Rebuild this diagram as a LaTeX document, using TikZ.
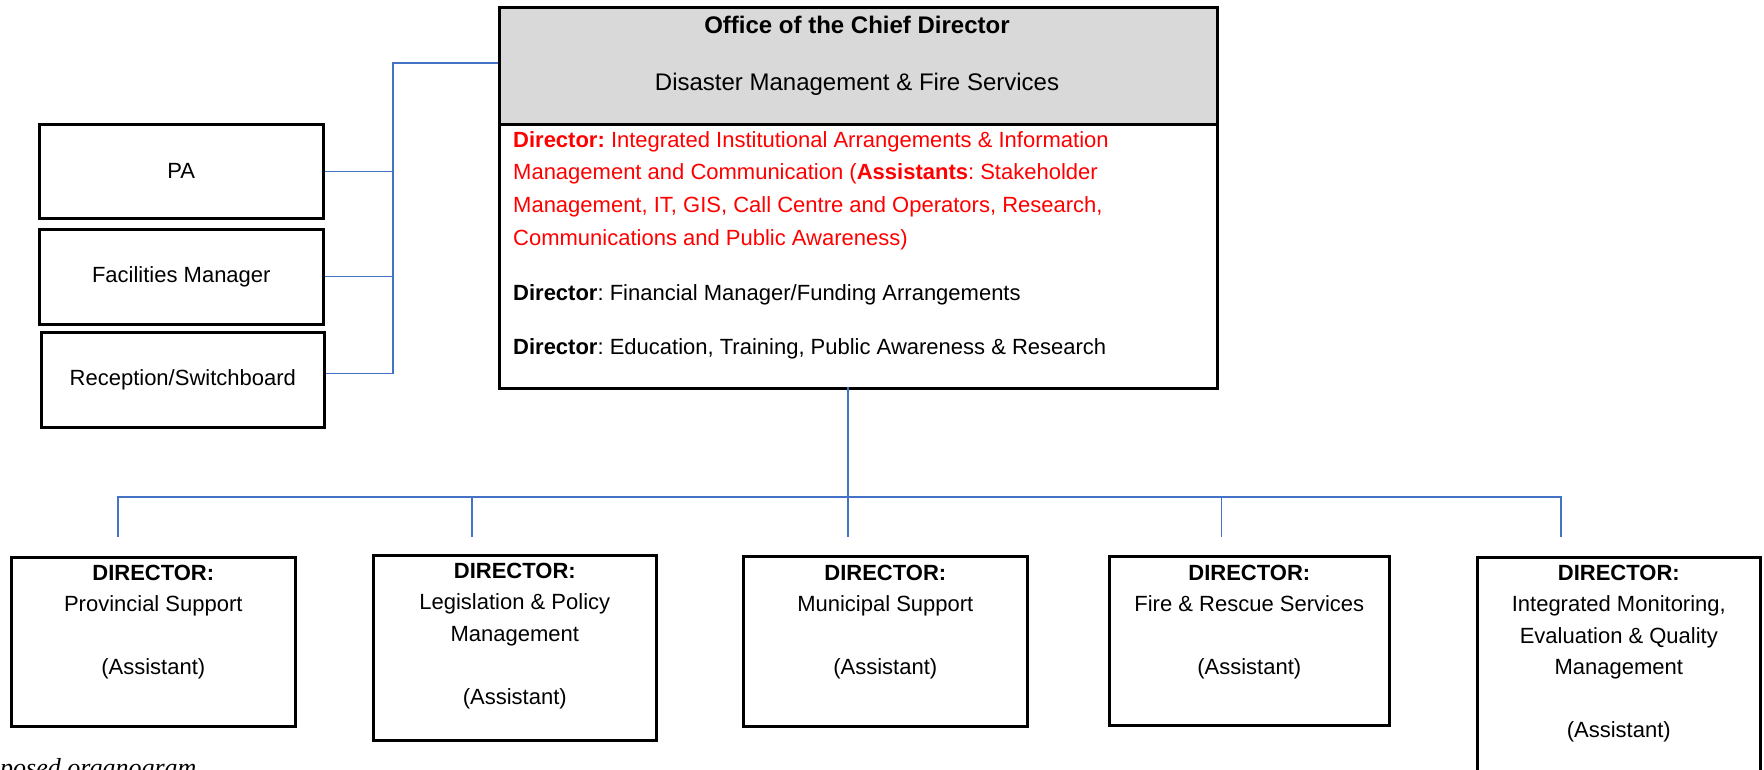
\documentclass[tikz,border=0pt]{standalone}
\usepackage{fontspec}
\setmainfont{Liberation Sans}
\newfontfamily\capfont{Liberation Serif}
\usetikzlibrary{calc}
\definecolor{linkblue}{HTML}{4472C4}
\definecolor{headgray}{HTML}{D9D9D9}
\definecolor{redtext}{HTML}{FF0000}
\frenchspacing
\newcommand{\btext}[2]{\parbox[t]{#1pt}{\centering\fontsize{22}{31.5}\selectfont #2}}
\begin{document}
\begin{tikzpicture}[x=1pt,y=-1pt,
  box/.style={draw=black, line width=2.6pt, rectangle, inner sep=0pt, anchor=north west},
  link/.style={draw=linkblue, line width=1.3pt},
  bodyfont/.style={font=\fontsize{22}{26}\selectfont},
  btxt/.style={anchor=base, inner sep=0pt}]
\useasboundingbox (0,0) rectangle (1764,769);
\clip (0,0) rectangle (1764,769);

% chief box
\node[box, fill=headgray, minimum width=718, minimum height=117] (chiefhead) at (498,6) {};
\node[box, minimum width=718, minimum height=264] (chiefbody) at (498,123) {};
\node[anchor=base, inner sep=0pt, font=\bfseries\fontsize{24}{28}\selectfont] (title) at (857,33) {Office of the Chief Director};
\node[anchor=base, inner sep=0pt, font=\fontsize{24}{28}\selectfont] (subtitle) at (857,90) {Disaster Management \& Fire Services};
\node[anchor=base west, inner sep=0pt, text=redtext] (red) at (513,147)
  {\parbox[t]{690pt}{\raggedright\fontsize{22}{32.7}\selectfont
   \textbf{Director:} Integrated Institutional Arrangements \& Information\\
   Management and Communication (\textbf{Assistants}: Stakeholder\\
   Management, IT, GIS, Call Centre and Operators, Research,\\
   Communications and Public Awareness)}};
\node[anchor=base west, inner sep=0pt, bodyfont] (fin) at (513,300) {\textbf{Director}: Financial Manager/Funding Arrangements};
\node[anchor=base west, inner sep=0pt, bodyfont] (edu) at (513,354) {\textbf{Director}: Education, Training, Public Awareness \& Research};

% left boxes
\node[box, minimum width=284, minimum height=94, bodyfont] (pa) at (38,123) {PA};
\node[box, minimum width=284, minimum height=95, bodyfont] (fac) at (38,228) {Facilities Manager};
\node[box, minimum width=283, minimum height=95, bodyfont] (rec) at (40,331) {Reception/Switchboard};

% bottom boxes
\node[box, minimum width=284, minimum height=169] (b1) at (10,556) {};
\node[box, minimum width=283, minimum height=185] (b2) at (372,554) {};
\node[box, minimum width=284, minimum height=170] (b3) at (742,555) {};
\node[box, minimum width=280, minimum height=169] (b4) at (1108,555) {};
\node[box, minimum width=283, minimum height=260] (b5) at (1476,556) {};

\node[btxt] (t1) at ($(b1.north)+(0,24)$) {\btext{270}{\textbf{DIRECTOR:}\\Provincial Support\\[31.5pt](Assistant)}};
\node[btxt] (t2) at ($(b2.north)+(0,24)$) {\btext{270}{\textbf{DIRECTOR:}\\Legislation \& Policy\\Management\\[31.5pt](Assistant)}};
\node[btxt] (t3) at ($(b3.north)+(0,25)$) {\btext{270}{\textbf{DIRECTOR:}\\Municipal Support\\[31.5pt](Assistant)}};
\node[btxt] (t4) at ($(b4.north)+(0,25)$) {\btext{270}{\textbf{DIRECTOR:}\\Fire \& Rescue Services\\[31.5pt](Assistant)}};
\node[btxt] (t5) at ($(b5.north)+(0,24)$) {\btext{270}{\textbf{DIRECTOR:}\\Integrated Monitoring,\\Evaluation \& Quality\\Management\\[31.5pt](Assistant)}};

% connectors
\coordinate (cdrop) at (848,387);
\coordinate (bus) at (848,497);
\coordinate (d1) at (118,537);
\coordinate (d2) at (472,537);
\coordinate (d3) at (848,537);
\coordinate (d4) at (1221.5,537);
\coordinate (d5) at (1561,537);
\draw[link] (cdrop) -- (bus);
\draw[link] (d1) -- (d1 |- bus) -- (d5 |- bus) -- (d5);
\draw[link] (d2 |- bus) -- (d2);
\draw[link] (d3 |- bus) -- (d3);
\draw[link] (d4 |- bus) -- (d4);

\coordinate (cl) at (498,63);
\coordinate (lbus) at (393,63);
\coordinate (recport) at ([yshift=6pt]rec.east);
\draw[link] (cl) -- (lbus) -- (lbus |- recport) -- (recport);
\draw[link] (pa.east) -- (pa.east -| lbus);
\draw[link] (fac.east) -- (fac.east -| lbus);

% caption
\node[anchor=base west, inner sep=0pt, font=\capfont\itshape\fontsize{26}{30}\selectfont] (cap) at (0,776) {posed organogram};
\end{tikzpicture}
\end{document}
